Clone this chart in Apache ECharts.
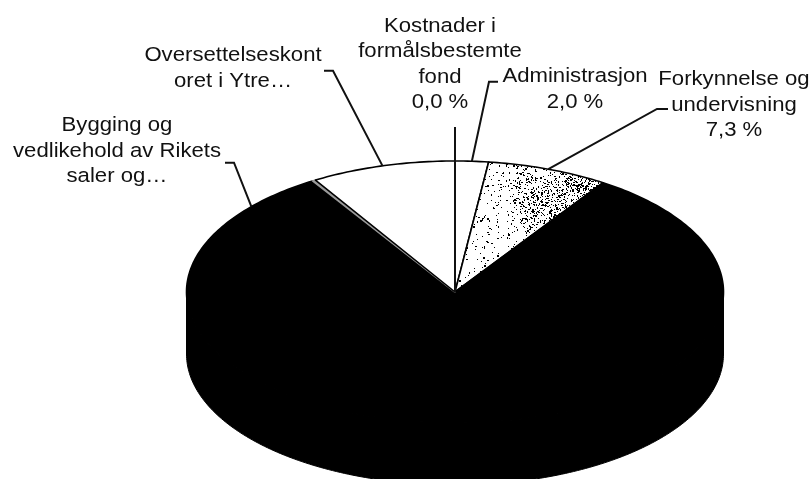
<!DOCTYPE html>
<html>
<head>
<meta charset="utf-8">
<style>html,body{margin:0;padding:0;background:#fff}#c{width:810px;height:479px}</style>
<script src="https://cdn.jsdelivr.net/npm/echarts@6/dist/echarts.min.js"></script>
</head>
<body>
<div id="c"></div>
<script>
// Data, clockwise from 12 o'clock (percent)
const categories = ['Kostnader i formålsbestemte fond', 'Administrasjon', 'Forkynnelse og undervisning', 'Øvrige', 'Bygging og vedlikehold av Rikets saler og…', 'Øvrig (smal)', 'Oversettelseskontoret i Ytre…'];
const values = [0.0, 2.0, 7.3, 72.2, 9.6, 0.2, 8.7];
const labelTexts = ['Kostnader i\nformålsbestemte\nfond\n0,0 %', 'Administrasjon\n2,0 %', 'Forkynnelse og\nundervisning\n7,3 %', '', 'Bygging og\nvedlikehold av Rikets\nsaler og…', '', 'Oversettelseskont\noret i Ytre…'];

// Layout and style
const PIE = {cx: 455, cy: 292, a: 268.5, b: 131, depth: 62};
const TEXT = {size: 20.5, stretch: 1.08, lineHeight: 25.3, font: '"Liberation Sans", Arial, sans-serif', color: '#111'};
const LABELS = {
  0: {x: 440, base: 33.5, path: [[455, 127]], toApex: true},
  1: {x: 575, base: 84, path: [[498, 81.7], [489, 81.7]]},
  2: {x: 734, base: 87, path: [[668, 109], [657, 109]]},
  4: {x: 117, base: 133, path: [[225, 162.7], [234, 162.7]]},
  6: {x: 233, base: 63, path: [[324, 70.7], [333, 70.7]]}
};

function speckle() {
  const c = document.createElement('canvas');
  c.width = 810; c.height = 479;
  const g = c.getContext('2d');
  g.fillStyle = '#fff'; g.fillRect(0, 0, 810, 479);
  g.fillStyle = '#000';
  let s = 12345;
  const next = () => (s = (s * 1664525 + 1013904223) % 4294967296) / 4294967296;
  const bump = (x, y, mx, my, r) => Math.exp(-((x - mx) * (x - mx) + (y - my) * (y - my)) / (r * r));
  for (let y = 150; y < 300; y += 1) for (let x = 450; x < 610; x += 1) {
    const d = 0.03 + 0.2 * bump(x, y, 541, 205, 24) + 0.3 * bump(x, y, 578, 181, 18) + 0.1 * bump(x, y, 522, 175, 14);
    if (next() < d) g.fillRect(x, y, next() < 0.25 ? 2 : 1, next() < 0.2 ? 2 : 1);
  }
  return c;
}
const tex = speckle();
const fills = ['#fff', '#fff', {image: tex, repeat: 'repeat'}, '#000', '#000', '#9a9a9a', '#fff'];
const strokes = ['#000', '#000', '#000', '#000', '#000', '#9a9a9a', '#000'];

const total = values.reduce((p, v) => p + v, 0);
const starts = [];
values.reduce((p, v, i) => (starts[i] = p, p + v), 0);
const toAngle = v => v / total * Math.PI * 2;
const rim = (t, dy) => [PIE.cx + PIE.a * Math.sin(t), PIE.cy + (dy || 0) - PIE.b * Math.cos(t)];

function arc(t0, t1) {
  const n = Math.max(2, Math.ceil((t1 - t0) * 60));
  const out = [];
  for (let i = 0; i <= n; i++) out.push(t0 + (t1 - t0) * i / n);
  return out;
}

function renderSlice(params, api) {
  const i = params.dataIndex;
  const v = api.value(0);
  const t0 = toAngle(starts[i]), t1 = toAngle(starts[i] + v);
  const kids = [];
  // front wall
  const f0 = Math.max(t0, Math.PI / 2), f1 = Math.min(t1, Math.PI * 1.5);
  if (f1 > f0) {
    const ts = arc(f0, f1);
    kids.push({type: 'polygon', shape: {points: ts.map(t => rim(t)).concat(ts.slice().reverse().map(t => rim(t, PIE.depth)))},
      style: {fill: '#000', stroke: '#000', lineWidth: 1}});
  }
  // top face
  if (v > 0) {
    kids.push({type: 'polygon', shape: {points: [[PIE.cx, PIE.cy]].concat(arc(t0, t1).map(t => rim(t)))},
      style: {fill: fills[i], stroke: strokes[i], lineWidth: 1.6, lineJoin: 'round'}});
  }
  return {type: 'group', children: kids};
}

function renderLabel(params, api) {
  const i = params.dataIndex;
  const L = LABELS[i];
  if (!L) return {type: 'group', children: []};
  const v = values[i];
  const mid = toAngle(starts[i] + v / 2);
  const end = L.toApex ? [PIE.cx, PIE.cy] : rim(mid);
  return {type: 'group', children: [
    {type: 'polyline', shape: {points: L.path.concat([end])}, style: {fill: 'none', stroke: '#111', lineWidth: 2}},
    {type: 'group', x: L.x, y: L.base - TEXT.lineHeight / 2 - TEXT.size * 0.35, scaleX: TEXT.stretch, children: [
      {type: 'text', style: {x: 0, y: 0, text: labelTexts[i], align: 'center', verticalAlign: 'top',
        fontFamily: TEXT.font, fontSize: TEXT.size, lineHeight: TEXT.lineHeight, fill: TEXT.color}}
    ]}
  ]};
}

const rows = values.map((v, i) => ({name: categories[i], value: [v]}));
const chart = echarts.init(document.getElementById('c'), null, {renderer: 'canvas'});
chart.setOption({
  animation: false,
  backgroundColor: '#fff',
  series: [
    {type: 'custom', coordinateSystem: 'none', silent: true, z: 2, renderItem: renderSlice, data: rows},
    {type: 'custom', coordinateSystem: 'none', silent: true, z: 3, renderItem: renderLabel, data: rows}
  ]
});
</script>
</body>
</html>
